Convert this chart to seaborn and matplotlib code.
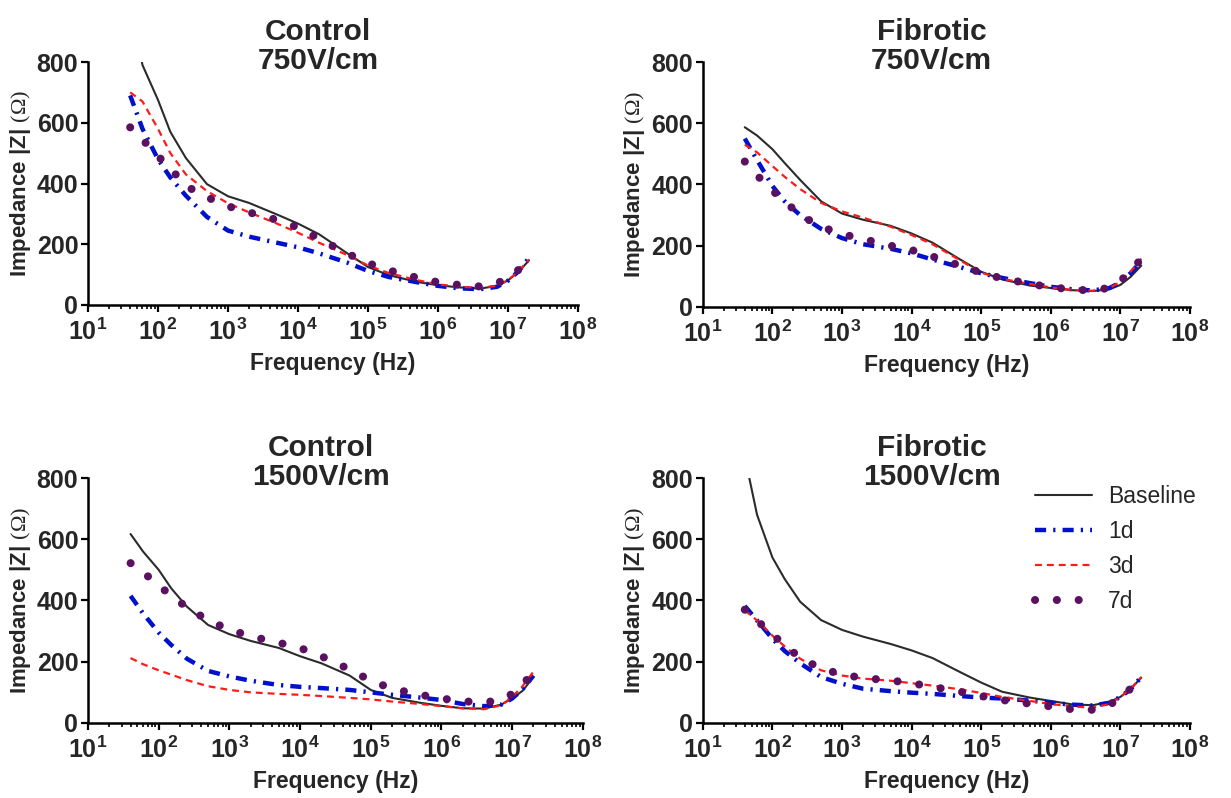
import numpy as np
import pandas as pd
import seaborn as sns
import matplotlib
matplotlib.use("Agg")
import matplotlib.pyplot as plt
from matplotlib.ticker import FixedLocator, FuncFormatter, LogLocator, NullFormatter

# frequencies (Hz) the curves were read at
freq = [40, 60, 100, 150, 250, 500, 1e3, 2e3, 5e3, 1e4, 2e4, 5e4,
        1e5, 2e5, 5e5, 1e6, 2e6, 4e6, 7e6, 1e7, 1.4e7, 2e7]

series_names = ["Baseline", "1d", "3d", "7d"]
panel_titles = ["Control\n750V/cm", "Fibrotic\n750V/cm",
                "Control\n1500V/cm", "Fibrotic\n1500V/cm"]

# Control 750V/cm
ctrl750_base = [1000, 790, 675, 570, 484, 398, 358, 336, 298, 268, 233, 171,
                125, 98, 76, 65, 58, 54, 63, 81, 108, 147]
ctrl750_1d = [690, 580, 480, 420, 360, 290, 245, 225, 205, 190, 170, 140,
              112, 92, 75, 63, 55, 52, 60, 80, 110, 155]
ctrl750_3d = [700, 670, 580, 500, 430, 375, 335, 305, 268, 238, 205, 165,
              130, 105, 82, 68, 60, 57, 63, 82, 110, 150]
ctrl750_7d = [585, 545, 490, 450, 392, 355, 325, 305, 280, 255, 218, 170,
              138, 114, 90, 75, 66, 61, 72, 88, 115, 155]

# Fibrotic 750V/cm
fib750_base = [587, 560, 515, 470, 415, 345, 305, 285, 265, 240, 210, 155,
               115, 90, 70, 62, 55, 52, 58, 72, 98, 135]
fib750_1d = [550, 480, 395, 345, 300, 255, 225, 205, 190, 175, 155, 130,
             110, 95, 78, 66, 58, 54, 62, 80, 110, 150]
fib750_3d = [530, 505, 460, 425, 385, 340, 312, 292, 262, 235, 205, 152,
             112, 92, 75, 64, 56, 53, 62, 82, 115, 158]
fib750_7d = [475, 430, 380, 345, 300, 262, 238, 222, 200, 186, 165, 135,
             112, 93, 76, 64, 58, 53, 63, 85, 115, 158]

# Control 1500V/cm
ctrl1500_base = [617, 560, 500, 440, 380, 320, 290, 268, 245, 218, 195, 155,
                 108, 82, 66, 56, 48, 47, 60, 80, 105, 150]
ctrl1500_1d = [415, 358, 295, 255, 210, 170, 152, 138, 124, 118, 114, 108,
               100, 92, 83, 75, 62, 55, 60, 80, 110, 155]
ctrl1500_3d = [212, 192, 172, 158, 140, 120, 108, 100, 95, 92, 88, 82,
               77, 70, 62, 55, 48, 45, 58, 85, 120, 168]
ctrl1500_7d = [522, 492, 450, 415, 378, 335, 305, 283, 262, 245, 218, 175,
               138, 112, 92, 80, 71, 67, 75, 95, 125, 166]

# Fibrotic 1500V/cm
fib1500_base = [870, 680, 540, 470, 396, 336, 304, 282, 258, 237, 212, 166,
                132, 102, 83, 72, 61, 58, 69, 85, 110, 148]
fib1500_1d = [382, 335, 275, 235, 195, 150, 128, 112, 104, 99, 95, 88,
              83, 80, 73, 66, 60, 57, 66, 85, 110, 150]
fib1500_3d = [368, 335, 285, 250, 210, 172, 155, 145, 138, 130, 122, 110,
              98, 85, 72, 62, 54, 50, 62, 85, 112, 150]
fib1500_7d = [370, 335, 288, 255, 212, 178, 158, 147, 139, 130, 118, 102,
              88, 75, 63, 54, 45, 43, 60, 80, 112, 150]

panels = [
    [ctrl750_base, ctrl750_1d, ctrl750_3d, ctrl750_7d],
    [fib750_base, fib750_1d, fib750_3d, fib750_7d],
    [ctrl1500_base, ctrl1500_1d, ctrl1500_3d, ctrl1500_7d],
    [fib1500_base, fib1500_1d, fib1500_3d, fib1500_7d],
]

# line styles per series
styles = {
    "Baseline": dict(color="#2b2b2b", linewidth=1.5, linestyle="-"),
    "1d": dict(color="#0010cc", linewidth=3.2, linestyle=(0, (2.5, 1.6, 0.5, 1.6))),
    "3d": dict(color="#ff1a1a", linewidth=1.6, linestyle=(0, (3.1, 2.25))),
    "7d": dict(color="#5a1160", linewidth=5.8, linestyle=(0, (0.01, 2.7)),
               dash_capstyle="round"),
}

sns.set_style("ticks")
plt.rcParams["font.family"] = ["Liberation Sans", "DejaVu Sans"]
plt.rcParams["mathtext.fontset"] = "custom"
plt.rcParams["mathtext.bf"] = "Liberation Sans:bold"
plt.rcParams["mathtext.rm"] = "Liberation Serif"
plt.rcParams["mathtext.it"] = "Liberation Serif:italic"

fig = plt.figure(figsize=(12.31, 7.98), dpi=100)
axes_pos = [[0.0715, 0.6178, 0.398, 0.3045],
            [0.571, 0.6153, 0.3956, 0.307],
            [0.0715, 0.094, 0.402, 0.307],
            [0.571, 0.094, 0.3956, 0.307]]

for i, (pos, title, curves) in enumerate(zip(axes_pos, panel_titles, panels)):
    ax = fig.add_axes(pos)
    for name, vals in zip(series_names, curves):
        df = pd.DataFrame({"freq": freq, "z": vals})
        sns.lineplot(data=df, x="freq", y="z", ax=ax,
                     label=name if i == 3 else None, **styles[name])
    ax.set_xscale("log")
    ax.set_xlim(10, 1e8)
    ax.set_ylim(0, 800)
    ax.xaxis.set_major_locator(FixedLocator([10.0 ** k for k in range(1, 9)]))
    ax.xaxis.set_major_formatter(FuncFormatter(
        lambda v, p: r"$\mathbf{10^{%d}}$" % round(np.log10(v))))
    ax.xaxis.set_minor_locator(LogLocator(base=10, subs=np.arange(2, 10), numticks=50))
    ax.xaxis.set_minor_formatter(NullFormatter())
    ax.set_yticks([0, 200, 400, 600, 800])
    ax.tick_params(axis="both", which="major", length=5, width=1.6,
                   labelsize=18, pad=2, color="black")
    ax.tick_params(axis="x", which="major", pad=5)
    ax.tick_params(axis="x", which="minor", length=3, width=1.2, color="black")
    for lab in ax.get_yticklabels():
        lab.set_fontweight("bold")
    sns.despine(ax=ax)
    for sp in ["left", "bottom"]:
        ax.spines[sp].set_linewidth(1.8)
        ax.spines[sp].set_color("black")
    ax.set_xlabel("Frequency (Hz)", fontsize=16.5, fontweight="bold", labelpad=5)
    ax.set_ylabel(r"Impedance |Z| $(\Omega)$", fontsize=16, fontweight="bold", labelpad=3)
    # explicit y keeps matplotlib from pushing the title above the axes
    ax.set_title(title, fontsize=21.5, fontweight="bold", y=1.0, pad=-5,
                 linespacing=1.05, x=0.47)
    if i == 3:
        ax.legend(loc="upper left", bbox_to_anchor=(1035 / 1231, 1 - 485 / 798),
                  bbox_transform=fig.transFigure, frameon=False, borderpad=0,
                  borderaxespad=0, handlelength=2.5, handletextpad=0.7,
                  labelspacing=0.52, fontsize=16.5)

fig.savefig("out.png", dpi=100)
